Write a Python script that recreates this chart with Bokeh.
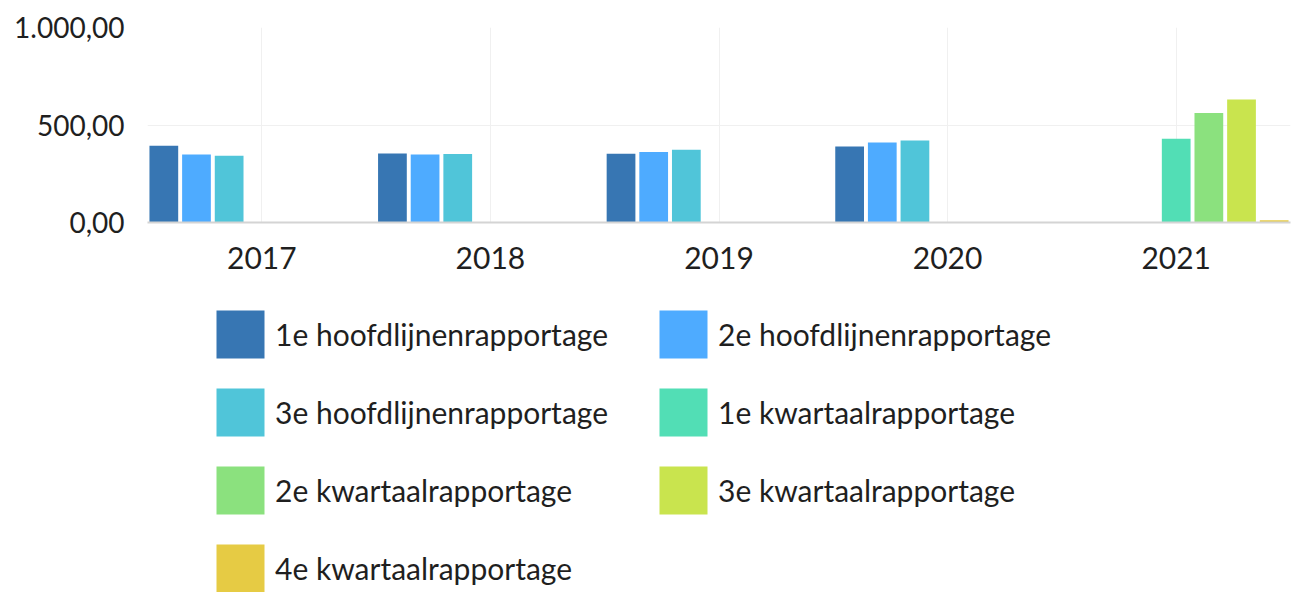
from bokeh.plotting import figure
from bokeh.models import FactorRange, Range1d, FixedTicker, Legend, LegendItem, ColumnDataSource
from bokeh.layouts import column
from bokeh.transform import dodge
from bokeh.embed import file_html
from bokeh.resources import INLINE

years = ["2017", "2018", "2019", "2020", "2021"]
series = ["1e hoofdlijnenrapportage", "2e hoofdlijnenrapportage", "3e hoofdlijnenrapportage",
          "1e kwartaalrapportage", "2e kwartaalrapportage", "3e kwartaalrapportage",
          "4e kwartaalrapportage"]
colors = ["#3776b3", "#4eabff", "#50c5d9", "#52deb5", "#8be17e", "#c9e44e", "#e6cb44"]

s1_hoofd = [393, 354, 352, 390, None]
s2_hoofd = [349, 349, 362, 410, None]
s3_hoofd = [342, 351, 373, 420, None]
s1_kwart = [None, None, None, None, 429]
s2_kwart = [None, None, None, None, 562]
s3_kwart = [None, None, None, None, 631]
s4_kwart = [None, None, None, None, 12]
values = [s1_hoofd, s2_hoofd, s3_hoofd, s1_kwart, s2_kwart, s3_kwart, s4_kwart]

y_ticks = [0, 500, 1000]
y_tick_labels = ["0,00", "500,00", "1.000,00"]

FONT = "Lato"
TXT = "#1f1f1f"

# ---- chart ----
p = figure(x_range=FactorRange(*years), y_range=Range1d(0, 1000),
           frame_width=1143, frame_height=195,
           min_border_left=147, min_border_right=6, min_border_top=27, min_border_bottom=78,
           output_backend="svg", toolbar_location=None)
p.outline_line_color = None

# ---- legend panel (frame aligned with the chart's frame by the column layout) ----
lg = figure(x_range=p.x_range, y_range=Range1d(0, 1), frame_width=1143, frame_height=292,
            min_border_left=147, min_border_right=6, min_border_top=0, min_border_bottom=0,
            output_backend="svg", toolbar_location=None)
lg.outline_line_color = None
lg.axis.visible = False
lg.grid.visible = False

n = len(series)
slot = 1.0 / n
items = []
for i, (name, col, vals) in enumerate(zip(series, colors, values)):
    xs = [y for y, v in zip(years, vals) if v is not None]
    ts = [v for v in vals if v is not None]
    src = ColumnDataSource(dict(x=xs, top=ts))
    off = (i - (n - 1) / 2) * slot
    p.vbar(x=dodge("x", off, range=p.x_range), top="top", width=slot * 0.88,
           source=src, fill_color=col, line_color=None)
    r = lg.vbar(x=dodge("x", off, range=p.x_range), top="top", width=slot * 0.88,
                source=src, fill_color=col, line_color=None, visible=False)
    items.append(LegendItem(label=name, renderers=[r]))

p.yaxis.ticker = FixedTicker(ticks=y_ticks)
p.yaxis.major_label_overrides = {t: l for t, l in zip(y_ticks, y_tick_labels)}
p.yaxis.axis_line_color = None
p.yaxis.major_tick_line_color = None
p.yaxis.minor_tick_line_color = None
p.yaxis.major_label_standoff = 17
p.yaxis.major_label_text_font = FONT
p.yaxis.major_label_text_font_size = "28px"
p.yaxis.major_label_text_color = TXT

p.xaxis.axis_line_color = "#d4d4d4"
p.xaxis.axis_line_width = 2
p.xaxis.major_tick_line_color = None
p.xaxis.minor_tick_line_color = None
p.xaxis.major_label_standoff = 18
p.xaxis.major_label_text_font = FONT
p.xaxis.major_label_text_font_size = "30px"
p.xaxis.major_label_text_color = TXT

p.xgrid.grid_line_color = "#f0f0f0"
p.ygrid.grid_line_color = "#f0f0f0"
p.ygrid.ticker = FixedTicker(ticks=y_ticks)

legend = Legend(items=items, orientation="horizontal", ncols=2,
                location=(63, -6), padding=0, margin=0, spacing=18,
                glyph_width=60, glyph_height=60, label_standoff=5,
                label_width=360, label_height=60,
                label_text_font=FONT, label_text_font_size="30px", label_text_color=TXT,
                inactive_fill_alpha=0, click_policy="none",
                border_line_color=None, background_fill_alpha=0)
lg.add_layout(legend, "center")

layout = column(p, lg, spacing=0)
open("out.html", "w").write(file_html(layout, INLINE))
